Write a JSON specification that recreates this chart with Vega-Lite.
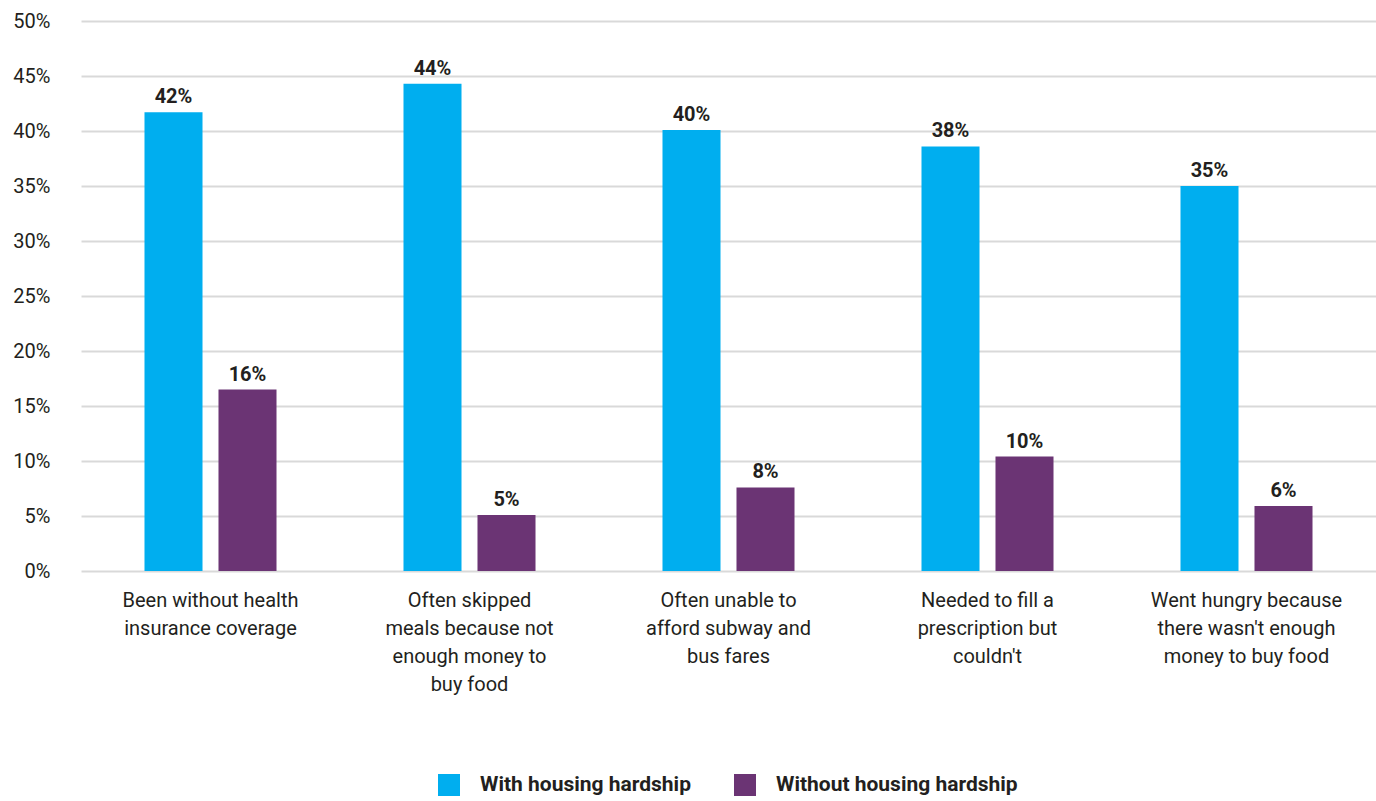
{
  "$schema": "https://vega.github.io/schema/vega-lite/v6.json",
  "width": 1295,
  "height": 550,
  "autosize": {"type": "none"},
  "padding": {"left": 81, "top": 21, "right": 0, "bottom": 230},
  "background": "white",
  "config": {
    "font": "Roboto, sans-serif",
    "view": {"stroke": null}
  },
  "data": {
    "values": [
      {"cat": "Been without health|insurance coverage", "group": "With housing hardship", "value": 0.417, "label": "42%"},
      {"cat": "Been without health|insurance coverage", "group": "Without housing hardship", "value": 0.165, "label": "16%"},
      {"cat": "Often skipped|meals because not|enough money to|buy food", "group": "With housing hardship", "value": 0.443, "label": "44%"},
      {"cat": "Often skipped|meals because not|enough money to|buy food", "group": "Without housing hardship", "value": 0.051, "label": "5%"},
      {"cat": "Often unable to|afford subway and|bus fares", "group": "With housing hardship", "value": 0.401, "label": "40%"},
      {"cat": "Often unable to|afford subway and|bus fares", "group": "Without housing hardship", "value": 0.076, "label": "8%"},
      {"cat": "Needed to fill a|prescription but|couldn't", "group": "With housing hardship", "value": 0.386, "label": "38%"},
      {"cat": "Needed to fill a|prescription but|couldn't", "group": "Without housing hardship", "value": 0.104, "label": "10%"},
      {"cat": "Went hungry because|there wasn't enough|money to buy food", "group": "With housing hardship", "value": 0.350, "label": "35%"},
      {"cat": "Went hungry because|there wasn't enough|money to buy food", "group": "Without housing hardship", "value": 0.059, "label": "6%"}
    ]
  },
  "encoding": {
    "x": {
      "field": "cat",
      "type": "nominal",
      "sort": null,
      "scale": {"paddingInner": 0, "paddingOuter": 0},
      "axis": {
        "title": null,
        "labelAngle": 0,
        "labelExpr": "split(datum.label, '|')",
        "labelFontSize": 20,
        "labelLineHeight": 28,
        "labelPadding": 19,
        "labelColor": "#231f20",
        "labelLimit": 300,
        "ticks": false,
        "domain": false
      }
    },
    "xOffset": {
      "field": "group",
      "type": "nominal",
      "scale": {"paddingInner": 0.216, "paddingOuter": 0.858}
    },
    "y": {
      "field": "value",
      "type": "quantitative",
      "scale": {"domain": [0, 0.5]},
      "axis": {
        "title": null,
        "format": ".0%",
        "values": [0, 0.05, 0.1, 0.15, 0.2, 0.25, 0.3, 0.35, 0.4, 0.45, 0.5],
        "labelFontSize": 20,
        "labelPadding": 31,
        "labelColor": "#231f20",
        "ticks": false,
        "domain": false,
        "gridColor": "#d9d9d9",
        "gridWidth": 2
      }
    }
  },
  "layer": [
    {
      "mark": {"type": "bar"},
      "encoding": {
        "color": {
          "field": "group",
          "type": "nominal",
          "scale": {"domain": ["With housing hardship", "Without housing hardship"], "range": ["#00aeef", "#6b3474"]},
          "legend": {
            "title": null,
            "orient": "none",
            "legendX": 357,
            "legendY": 753,
            "direction": "horizontal",
            "symbolType": "square",
            "symbolSize": 484,
            "symbolStrokeWidth": 0,
            "symbolOpacity": 1,
            "labelFontSize": 21,
            "labelFontWeight": "bold",
            "labelColor": "#231f20",
            "labelOffset": 20,
            "columnPadding": 43,
            "labelLimit": 400
          }
        }
      }
    },
    {
      "mark": {"type": "text", "baseline": "bottom", "dy": -5, "fontSize": 20, "fontWeight": "bold", "color": "#231f20"},
      "encoding": {
        "text": {"field": "label", "type": "nominal"}
      }
    }
  ]
}
